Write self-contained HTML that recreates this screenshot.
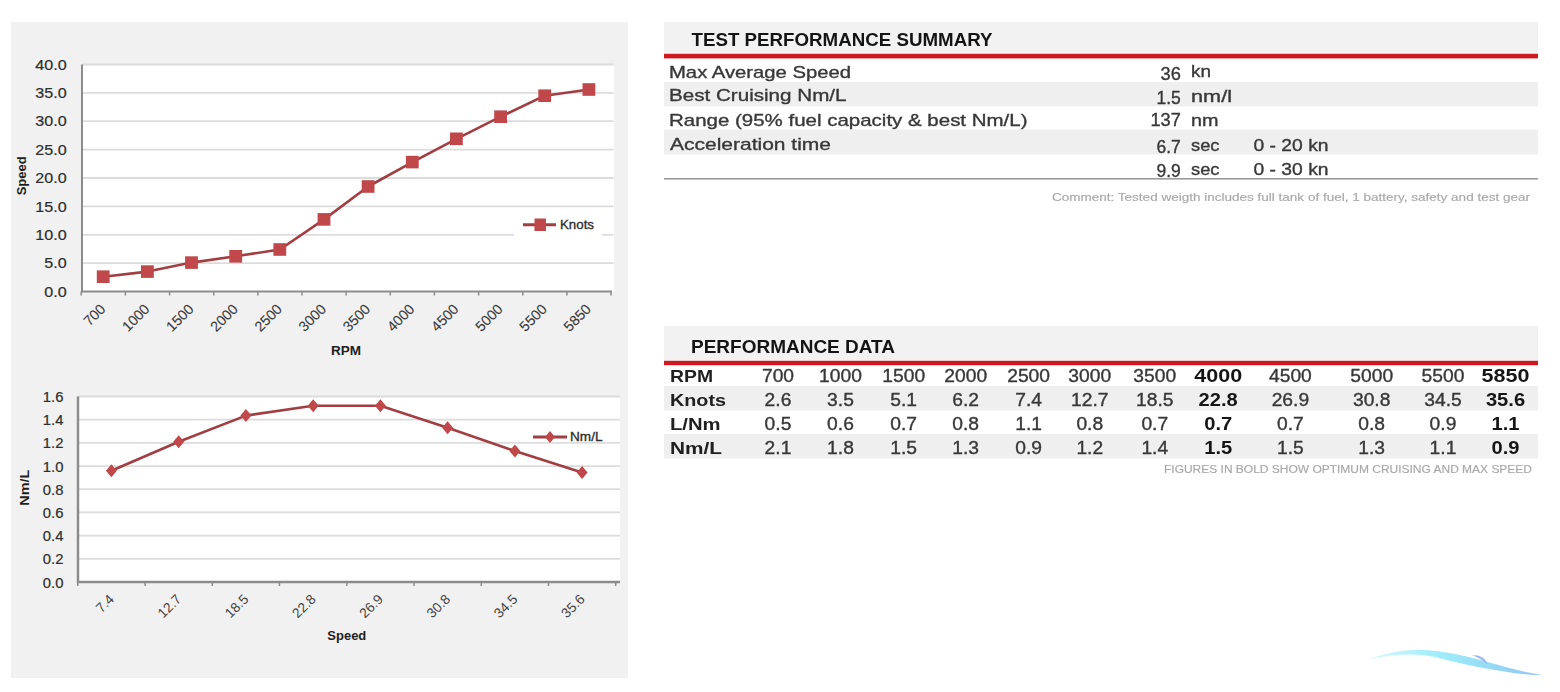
<!DOCTYPE html><html><head><meta charset="utf-8"><style>html,body{margin:0;padding:0;background:#fff;width:1560px;height:692px;overflow:hidden}svg{position:absolute;left:0;top:0;display:block;filter:blur(0.45px)}text{font-family:"Liberation Sans", sans-serif}</style></head><body>
<svg width="1560" height="692" viewBox="0 0 1560 692">
<rect x="11" y="22" width="617" height="656" fill="#f1f1f1"/>
<rect x="82" y="64.0" width="532" height="227.0" fill="#ffffff"/>
<line x1="82" y1="64.5" x2="613.5" y2="64.5" stroke="#dcdcdc" stroke-width="1.8"/>
<line x1="82" y1="92.9" x2="613.5" y2="92.9" stroke="#dcdcdc" stroke-width="1.8"/>
<line x1="82" y1="121.2" x2="613.5" y2="121.2" stroke="#dcdcdc" stroke-width="1.8"/>
<line x1="82" y1="149.6" x2="613.5" y2="149.6" stroke="#dcdcdc" stroke-width="1.8"/>
<line x1="82" y1="178.0" x2="613.5" y2="178.0" stroke="#dcdcdc" stroke-width="1.8"/>
<line x1="82" y1="206.4" x2="613.5" y2="206.4" stroke="#dcdcdc" stroke-width="1.8"/>
<line x1="82" y1="234.8" x2="613.5" y2="234.8" stroke="#dcdcdc" stroke-width="1.8"/>
<line x1="82" y1="263.1" x2="613.5" y2="263.1" stroke="#dcdcdc" stroke-width="1.8"/>
<text x="66.70" y="69.70" font-size="14" fill="#2e2e2e" stroke="#2e2e2e" stroke-width="0.2" text-anchor="end" textLength="31.34" lengthAdjust="spacingAndGlyphs">40.0</text>
<text x="66.70" y="98.08" font-size="14" fill="#2e2e2e" stroke="#2e2e2e" stroke-width="0.2" text-anchor="end" textLength="31.34" lengthAdjust="spacingAndGlyphs">35.0</text>
<text x="66.70" y="126.45" font-size="14" fill="#2e2e2e" stroke="#2e2e2e" stroke-width="0.2" text-anchor="end" textLength="31.34" lengthAdjust="spacingAndGlyphs">30.0</text>
<text x="66.70" y="154.82" font-size="14" fill="#2e2e2e" stroke="#2e2e2e" stroke-width="0.2" text-anchor="end" textLength="31.34" lengthAdjust="spacingAndGlyphs">25.0</text>
<text x="66.70" y="183.20" font-size="14" fill="#2e2e2e" stroke="#2e2e2e" stroke-width="0.2" text-anchor="end" textLength="31.34" lengthAdjust="spacingAndGlyphs">20.0</text>
<text x="66.70" y="211.57" font-size="14" fill="#2e2e2e" stroke="#2e2e2e" stroke-width="0.2" text-anchor="end" textLength="31.34" lengthAdjust="spacingAndGlyphs">15.0</text>
<text x="66.70" y="239.95" font-size="14" fill="#2e2e2e" stroke="#2e2e2e" stroke-width="0.2" text-anchor="end" textLength="31.34" lengthAdjust="spacingAndGlyphs">10.0</text>
<text x="66.70" y="268.32" font-size="14" fill="#2e2e2e" stroke="#2e2e2e" stroke-width="0.2" text-anchor="end" textLength="22.38" lengthAdjust="spacingAndGlyphs">5.0</text>
<text x="66.70" y="296.70" font-size="14" fill="#2e2e2e" stroke="#2e2e2e" stroke-width="0.2" text-anchor="end" textLength="22.38" lengthAdjust="spacingAndGlyphs">0.0</text>
<line x1="82" y1="64.5" x2="82" y2="292.5" stroke="#8c8c8c" stroke-width="2"/>
<line x1="81" y1="291.5" x2="612" y2="291.5" stroke="#8c8c8c" stroke-width="2"/>
<line x1="81.2" y1="291.5" x2="81.2" y2="295.5" stroke="#8c8c8c" stroke-width="1.5"/>
<line x1="125.4" y1="291.5" x2="125.4" y2="295.5" stroke="#8c8c8c" stroke-width="1.5"/>
<line x1="169.6" y1="291.5" x2="169.6" y2="295.5" stroke="#8c8c8c" stroke-width="1.5"/>
<line x1="213.7" y1="291.5" x2="213.7" y2="295.5" stroke="#8c8c8c" stroke-width="1.5"/>
<line x1="257.9" y1="291.5" x2="257.9" y2="295.5" stroke="#8c8c8c" stroke-width="1.5"/>
<line x1="302.0" y1="291.5" x2="302.0" y2="295.5" stroke="#8c8c8c" stroke-width="1.5"/>
<line x1="346.1" y1="291.5" x2="346.1" y2="295.5" stroke="#8c8c8c" stroke-width="1.5"/>
<line x1="390.3" y1="291.5" x2="390.3" y2="295.5" stroke="#8c8c8c" stroke-width="1.5"/>
<line x1="434.4" y1="291.5" x2="434.4" y2="295.5" stroke="#8c8c8c" stroke-width="1.5"/>
<line x1="478.6" y1="291.5" x2="478.6" y2="295.5" stroke="#8c8c8c" stroke-width="1.5"/>
<line x1="522.8" y1="291.5" x2="522.8" y2="295.5" stroke="#8c8c8c" stroke-width="1.5"/>
<line x1="566.9" y1="291.5" x2="566.9" y2="295.5" stroke="#8c8c8c" stroke-width="1.5"/>
<line x1="611.0" y1="291.5" x2="611.0" y2="295.5" stroke="#8c8c8c" stroke-width="1.5"/>
<g transform="translate(106.3,310) rotate(-45)">
<text x="0.00" y="0.00" font-size="14.3" fill="#3a3a3a" stroke="#3a3a3a" stroke-width="0.1" text-anchor="end">700</text>
</g>
<g transform="translate(150.5,310) rotate(-45)">
<text x="0.00" y="0.00" font-size="14.3" fill="#3a3a3a" stroke="#3a3a3a" stroke-width="0.1" text-anchor="end">1000</text>
</g>
<g transform="translate(194.6,310) rotate(-45)">
<text x="0.00" y="0.00" font-size="14.3" fill="#3a3a3a" stroke="#3a3a3a" stroke-width="0.1" text-anchor="end">1500</text>
</g>
<g transform="translate(238.8,310) rotate(-45)">
<text x="0.00" y="0.00" font-size="14.3" fill="#3a3a3a" stroke="#3a3a3a" stroke-width="0.1" text-anchor="end">2000</text>
</g>
<g transform="translate(282.9,310) rotate(-45)">
<text x="0.00" y="0.00" font-size="14.3" fill="#3a3a3a" stroke="#3a3a3a" stroke-width="0.1" text-anchor="end">2500</text>
</g>
<g transform="translate(327.1,310) rotate(-45)">
<text x="0.00" y="0.00" font-size="14.3" fill="#3a3a3a" stroke="#3a3a3a" stroke-width="0.1" text-anchor="end">3000</text>
</g>
<g transform="translate(371.2,310) rotate(-45)">
<text x="0.00" y="0.00" font-size="14.3" fill="#3a3a3a" stroke="#3a3a3a" stroke-width="0.1" text-anchor="end">3500</text>
</g>
<g transform="translate(415.4,310) rotate(-45)">
<text x="0.00" y="0.00" font-size="14.3" fill="#3a3a3a" stroke="#3a3a3a" stroke-width="0.1" text-anchor="end">4000</text>
</g>
<g transform="translate(459.5,310) rotate(-45)">
<text x="0.00" y="0.00" font-size="14.3" fill="#3a3a3a" stroke="#3a3a3a" stroke-width="0.1" text-anchor="end">4500</text>
</g>
<g transform="translate(503.7,310) rotate(-45)">
<text x="0.00" y="0.00" font-size="14.3" fill="#3a3a3a" stroke="#3a3a3a" stroke-width="0.1" text-anchor="end">5000</text>
</g>
<g transform="translate(547.8,310) rotate(-45)">
<text x="0.00" y="0.00" font-size="14.3" fill="#3a3a3a" stroke="#3a3a3a" stroke-width="0.1" text-anchor="end">5500</text>
</g>
<g transform="translate(592.0,310) rotate(-45)">
<text x="0.00" y="0.00" font-size="14.3" fill="#3a3a3a" stroke="#3a3a3a" stroke-width="0.1" text-anchor="end">5850</text>
</g>
<rect x="514" y="210" width="88" height="30" fill="#ffffff"/>
<polyline fill="none" stroke="#a23e42" stroke-width="2.6" stroke-linejoin="round" points="103.3,276.7 147.5,271.6 191.6,262.6 235.8,256.3 279.9,249.5 324.1,219.4 368.2,186.5 412.4,162.1 456.5,138.8 500.7,116.7 544.8,95.7 589.0,89.5"/>
<rect x="96.8" y="270.4" width="12.8" height="12.6" fill="#c0484b"/>
<rect x="141.0" y="265.3" width="12.8" height="12.6" fill="#c0484b"/>
<rect x="185.1" y="256.3" width="12.8" height="12.6" fill="#c0484b"/>
<rect x="229.3" y="250.0" width="12.8" height="12.6" fill="#c0484b"/>
<rect x="273.4" y="243.2" width="12.8" height="12.6" fill="#c0484b"/>
<rect x="317.6" y="213.1" width="12.8" height="12.6" fill="#c0484b"/>
<rect x="361.7" y="180.2" width="12.8" height="12.6" fill="#c0484b"/>
<rect x="405.9" y="155.8" width="12.8" height="12.6" fill="#c0484b"/>
<rect x="450.0" y="132.5" width="12.8" height="12.6" fill="#c0484b"/>
<rect x="494.2" y="110.4" width="12.8" height="12.6" fill="#c0484b"/>
<rect x="538.3" y="89.4" width="12.8" height="12.6" fill="#c0484b"/>
<rect x="582.5" y="83.2" width="12.8" height="12.6" fill="#c0484b"/>
<line x1="523" y1="224.8" x2="556" y2="224.8" stroke="#a23e42" stroke-width="3"/>
<rect x="534.5" y="218.5" width="11.5" height="12.5" fill="#c0484b"/>
<text x="560.00" y="228.60" font-size="13.5" fill="#2e2e2e" stroke="#2e2e2e" stroke-width="0.35" textLength="34.00" lengthAdjust="spacingAndGlyphs">Knots</text>
<text x="345.90" y="355.00" font-size="13.5" fill="#1e1e1e" font-weight="bold" text-anchor="middle" textLength="30.00" lengthAdjust="spacingAndGlyphs">RPM</text>
<g transform="translate(26,175.8) rotate(-90)">
<text x="0.00" y="0.00" font-size="13" fill="#1e1e1e" font-weight="bold" text-anchor="middle" textLength="39.00" lengthAdjust="spacingAndGlyphs">Speed</text>
</g>
<rect x="78" y="396.0" width="542" height="185.5" fill="#ffffff"/>
<line x1="78" y1="396.5" x2="620" y2="396.5" stroke="#dcdcdc" stroke-width="1.8"/>
<line x1="78" y1="419.7" x2="620" y2="419.7" stroke="#dcdcdc" stroke-width="1.8"/>
<line x1="78" y1="442.9" x2="620" y2="442.9" stroke="#dcdcdc" stroke-width="1.8"/>
<line x1="78" y1="466.1" x2="620" y2="466.1" stroke="#dcdcdc" stroke-width="1.8"/>
<line x1="78" y1="489.2" x2="620" y2="489.2" stroke="#dcdcdc" stroke-width="1.8"/>
<line x1="78" y1="512.4" x2="620" y2="512.4" stroke="#dcdcdc" stroke-width="1.8"/>
<line x1="78" y1="535.6" x2="620" y2="535.6" stroke="#dcdcdc" stroke-width="1.8"/>
<line x1="78" y1="558.8" x2="620" y2="558.8" stroke="#dcdcdc" stroke-width="1.8"/>
<text x="63.50" y="402.00" font-size="14" fill="#2e2e2e" stroke="#2e2e2e" stroke-width="0.2" text-anchor="end" textLength="20.63" lengthAdjust="spacingAndGlyphs">1.6</text>
<text x="63.50" y="425.19" font-size="14" fill="#2e2e2e" stroke="#2e2e2e" stroke-width="0.2" text-anchor="end" textLength="20.63" lengthAdjust="spacingAndGlyphs">1.4</text>
<text x="63.50" y="448.38" font-size="14" fill="#2e2e2e" stroke="#2e2e2e" stroke-width="0.2" text-anchor="end" textLength="20.63" lengthAdjust="spacingAndGlyphs">1.2</text>
<text x="63.50" y="471.56" font-size="14" fill="#2e2e2e" stroke="#2e2e2e" stroke-width="0.2" text-anchor="end" textLength="20.63" lengthAdjust="spacingAndGlyphs">1.0</text>
<text x="63.50" y="494.75" font-size="14" fill="#2e2e2e" stroke="#2e2e2e" stroke-width="0.2" text-anchor="end" textLength="20.63" lengthAdjust="spacingAndGlyphs">0.8</text>
<text x="63.50" y="517.94" font-size="14" fill="#2e2e2e" stroke="#2e2e2e" stroke-width="0.2" text-anchor="end" textLength="20.63" lengthAdjust="spacingAndGlyphs">0.6</text>
<text x="63.50" y="541.12" font-size="14" fill="#2e2e2e" stroke="#2e2e2e" stroke-width="0.2" text-anchor="end" textLength="20.63" lengthAdjust="spacingAndGlyphs">0.4</text>
<text x="63.50" y="564.31" font-size="14" fill="#2e2e2e" stroke="#2e2e2e" stroke-width="0.2" text-anchor="end" textLength="20.63" lengthAdjust="spacingAndGlyphs">0.2</text>
<text x="63.50" y="587.50" font-size="14" fill="#2e2e2e" stroke="#2e2e2e" stroke-width="0.2" text-anchor="end" textLength="20.63" lengthAdjust="spacingAndGlyphs">0.0</text>
<line x1="78" y1="396.5" x2="78" y2="583" stroke="#8c8c8c" stroke-width="2.5"/>
<line x1="77" y1="582" x2="620" y2="582" stroke="#8c8c8c" stroke-width="2.5"/>
<line x1="77.8" y1="582" x2="77.8" y2="586" stroke="#8c8c8c" stroke-width="1.5"/>
<line x1="145.1" y1="582" x2="145.1" y2="586" stroke="#8c8c8c" stroke-width="1.5"/>
<line x1="212.3" y1="582" x2="212.3" y2="586" stroke="#8c8c8c" stroke-width="1.5"/>
<line x1="279.5" y1="582" x2="279.5" y2="586" stroke="#8c8c8c" stroke-width="1.5"/>
<line x1="346.8" y1="582" x2="346.8" y2="586" stroke="#8c8c8c" stroke-width="1.5"/>
<line x1="414.0" y1="582" x2="414.0" y2="586" stroke="#8c8c8c" stroke-width="1.5"/>
<line x1="481.3" y1="582" x2="481.3" y2="586" stroke="#8c8c8c" stroke-width="1.5"/>
<line x1="548.5" y1="582" x2="548.5" y2="586" stroke="#8c8c8c" stroke-width="1.5"/>
<line x1="615.7" y1="582" x2="615.7" y2="586" stroke="#8c8c8c" stroke-width="1.5"/>
<g transform="translate(114.9,600) rotate(-45)">
<text x="0.00" y="0.00" font-size="13.7" fill="#444444" text-anchor="end">7.4</text>
</g>
<g transform="translate(182.2,600) rotate(-45)">
<text x="0.00" y="0.00" font-size="13.7" fill="#444444" text-anchor="end">12.7</text>
</g>
<g transform="translate(249.4,600) rotate(-45)">
<text x="0.00" y="0.00" font-size="13.7" fill="#444444" text-anchor="end">18.5</text>
</g>
<g transform="translate(316.7,600) rotate(-45)">
<text x="0.00" y="0.00" font-size="13.7" fill="#444444" text-anchor="end">22.8</text>
</g>
<g transform="translate(383.9,600) rotate(-45)">
<text x="0.00" y="0.00" font-size="13.7" fill="#444444" text-anchor="end">26.9</text>
</g>
<g transform="translate(451.1,600) rotate(-45)">
<text x="0.00" y="0.00" font-size="13.7" fill="#444444" text-anchor="end">30.8</text>
</g>
<g transform="translate(518.4,600) rotate(-45)">
<text x="0.00" y="0.00" font-size="13.7" fill="#444444" text-anchor="end">34.5</text>
</g>
<g transform="translate(585.6,600) rotate(-45)">
<text x="0.00" y="0.00" font-size="13.7" fill="#444444" text-anchor="end">35.6</text>
</g>
<polyline fill="none" stroke="#a23e42" stroke-width="2.6" stroke-linejoin="round" points="111.4,470.7 178.7,441.7 245.9,415.6 313.2,405.8 380.4,405.8 447.6,427.8 514.9,451.0 582.1,472.6"/>
<path d="M111.4,464.2 L116.9,470.7 L111.4,477.2 L105.9,470.7 Z" fill="#c0484b"/>
<path d="M178.7,435.2 L184.2,441.7 L178.7,448.2 L173.2,441.7 Z" fill="#c0484b"/>
<path d="M245.9,409.1 L251.4,415.6 L245.9,422.1 L240.4,415.6 Z" fill="#c0484b"/>
<path d="M313.2,399.3 L318.7,405.8 L313.2,412.3 L307.7,405.8 Z" fill="#c0484b"/>
<path d="M380.4,399.3 L385.9,405.8 L380.4,412.3 L374.9,405.8 Z" fill="#c0484b"/>
<path d="M447.6,421.3 L453.1,427.8 L447.6,434.3 L442.1,427.8 Z" fill="#c0484b"/>
<path d="M514.9,444.5 L520.4,451.0 L514.9,457.5 L509.4,451.0 Z" fill="#c0484b"/>
<path d="M582.1,466.1 L587.6,472.6 L582.1,479.1 L576.6,472.6 Z" fill="#c0484b"/>
<line x1="533" y1="437" x2="567" y2="437" stroke="#a23e42" stroke-width="3"/>
<path d="M550,431 L555,437 L550,443 L545,437 Z" fill="#c0484b"/>
<text x="570.00" y="441.00" font-size="13" fill="#2e2e2e" stroke="#2e2e2e" stroke-width="0.35" textLength="32.50" lengthAdjust="spacingAndGlyphs">Nm/L</text>
<text x="346.80" y="640.00" font-size="13" fill="#1e1e1e" font-weight="bold" text-anchor="middle" textLength="39.00" lengthAdjust="spacingAndGlyphs">Speed</text>
<g transform="translate(28.5,487.7) rotate(-90)">
<text x="0.00" y="0.00" font-size="13" fill="#1e1e1e" font-weight="bold" text-anchor="middle" textLength="36.00" lengthAdjust="spacingAndGlyphs">Nm/L</text>
</g>
<rect x="664" y="22" width="874" height="32" fill="#f2f2f2"/>
<rect x="664" y="53.8" width="874" height="4.6" fill="#d0181f"/>
<rect x="664" y="82" width="874" height="24.3" fill="#efefef"/>
<rect x="664" y="129.5" width="874" height="25" fill="#efefef"/>
<rect x="664" y="178" width="874" height="1.6" fill="#9a9a9a"/>
<text x="691.50" y="45.50" font-size="18" fill="#141414" font-weight="bold" textLength="301.00" lengthAdjust="spacingAndGlyphs">TEST PERFORMANCE SUMMARY</text>
<text x="669.00" y="77.50" font-size="17" fill="#383838" stroke="#383838" stroke-width="0.35" textLength="182.00" lengthAdjust="spacingAndGlyphs">Max Average Speed</text>
<text x="669.00" y="101.30" font-size="17" fill="#383838" stroke="#383838" stroke-width="0.35" textLength="177.50" lengthAdjust="spacingAndGlyphs">Best Cruising Nm/L</text>
<text x="669.00" y="125.60" font-size="17" fill="#383838" stroke="#383838" stroke-width="0.35" textLength="358.50" lengthAdjust="spacingAndGlyphs">Range (95% fuel capacity &amp; best Nm/L)</text>
<text x="670.00" y="149.80" font-size="17" fill="#383838" stroke="#383838" stroke-width="0.35" textLength="161.00" lengthAdjust="spacingAndGlyphs">Acceleration time</text>
<text x="1180.80" y="80.00" font-size="17.5" fill="#383838" stroke="#383838" stroke-width="0.35" text-anchor="end" textLength="20.30" lengthAdjust="spacingAndGlyphs">36</text>
<text x="1191.00" y="77.30" font-size="17" fill="#383838" stroke="#383838" stroke-width="0.35" textLength="20.00" lengthAdjust="spacingAndGlyphs">kn</text>
<text x="1180.80" y="104.00" font-size="17.5" fill="#383838" stroke="#383838" stroke-width="0.35" text-anchor="end">1.5</text>
<text x="1191.00" y="102.00" font-size="17" fill="#383838" stroke="#383838" stroke-width="0.35" textLength="41.00" lengthAdjust="spacingAndGlyphs">nm/l</text>
<text x="1180.80" y="126.00" font-size="17.5" fill="#383838" stroke="#383838" stroke-width="0.35" text-anchor="end" textLength="30.40" lengthAdjust="spacingAndGlyphs">137</text>
<text x="1191.00" y="126.00" font-size="17" fill="#383838" stroke="#383838" stroke-width="0.35" textLength="27.50" lengthAdjust="spacingAndGlyphs">nm</text>
<text x="1180.80" y="153.00" font-size="17.5" fill="#383838" stroke="#383838" stroke-width="0.35" text-anchor="end">6.7</text>
<text x="1191.00" y="150.50" font-size="17" fill="#383838" stroke="#383838" stroke-width="0.35" textLength="28.50" lengthAdjust="spacingAndGlyphs">sec</text>
<text x="1253.50" y="150.50" font-size="17" fill="#383838" stroke="#383838" stroke-width="0.35" textLength="75.00" lengthAdjust="spacingAndGlyphs">0 - 20 kn</text>
<text x="1180.80" y="177.00" font-size="17.5" fill="#383838" stroke="#383838" stroke-width="0.35" text-anchor="end">9.9</text>
<text x="1191.00" y="175.00" font-size="17" fill="#383838" stroke="#383838" stroke-width="0.35" textLength="28.50" lengthAdjust="spacingAndGlyphs">sec</text>
<text x="1253.50" y="175.00" font-size="17" fill="#383838" stroke="#383838" stroke-width="0.35" textLength="75.00" lengthAdjust="spacingAndGlyphs">0 - 30 kn</text>
<text x="1530.00" y="201.00" font-size="10.5" fill="#a8a8a8" stroke="#a8a8a8" stroke-width="0.15" text-anchor="end" textLength="478.00" lengthAdjust="spacingAndGlyphs">Comment: Tested weigth includes full tank of fuel, 1 battery, safety and test gear</text>
<rect x="664" y="326" width="874" height="35" fill="#f2f2f2"/>
<rect x="664" y="360.8" width="874" height="4.4" fill="#d0181f"/>
<rect x="664" y="386" width="874" height="24.5" fill="#efefef"/>
<rect x="664" y="434" width="874" height="24.5" fill="#efefef"/>
<text x="691.00" y="352.50" font-size="18" fill="#141414" font-weight="bold" textLength="204.00" lengthAdjust="spacingAndGlyphs">PERFORMANCE DATA</text>
<text x="670.00" y="381.50" font-size="17" fill="#202020" font-weight="bold" textLength="43.00" lengthAdjust="spacingAndGlyphs">RPM</text>
<text x="778.00" y="381.50" font-size="17.5" fill="#383838" stroke="#383838" stroke-width="0.35" text-anchor="middle" textLength="32.12" lengthAdjust="spacingAndGlyphs">700</text>
<text x="840.50" y="381.50" font-size="17.5" fill="#383838" stroke="#383838" stroke-width="0.35" text-anchor="middle" textLength="42.83" lengthAdjust="spacingAndGlyphs">1000</text>
<text x="903.70" y="381.50" font-size="17.5" fill="#383838" stroke="#383838" stroke-width="0.35" text-anchor="middle" textLength="42.83" lengthAdjust="spacingAndGlyphs">1500</text>
<text x="965.70" y="381.50" font-size="17.5" fill="#383838" stroke="#383838" stroke-width="0.35" text-anchor="middle" textLength="42.83" lengthAdjust="spacingAndGlyphs">2000</text>
<text x="1028.60" y="381.50" font-size="17.5" fill="#383838" stroke="#383838" stroke-width="0.35" text-anchor="middle" textLength="42.83" lengthAdjust="spacingAndGlyphs">2500</text>
<text x="1089.80" y="381.50" font-size="17.5" fill="#383838" stroke="#383838" stroke-width="0.35" text-anchor="middle" textLength="42.83" lengthAdjust="spacingAndGlyphs">3000</text>
<text x="1154.80" y="381.50" font-size="17.5" fill="#383838" stroke="#383838" stroke-width="0.35" text-anchor="middle" textLength="42.83" lengthAdjust="spacingAndGlyphs">3500</text>
<text x="1218.20" y="381.50" font-size="17.5" fill="#151515" font-weight="bold" text-anchor="middle" textLength="47.89" lengthAdjust="spacingAndGlyphs">4000</text>
<text x="1290.40" y="381.50" font-size="17.5" fill="#383838" stroke="#383838" stroke-width="0.35" text-anchor="middle" textLength="42.83" lengthAdjust="spacingAndGlyphs">4500</text>
<text x="1371.70" y="381.50" font-size="17.5" fill="#383838" stroke="#383838" stroke-width="0.35" text-anchor="middle" textLength="42.83" lengthAdjust="spacingAndGlyphs">5000</text>
<text x="1443.00" y="381.50" font-size="17.5" fill="#383838" stroke="#383838" stroke-width="0.35" text-anchor="middle" textLength="42.83" lengthAdjust="spacingAndGlyphs">5500</text>
<text x="1505.50" y="381.50" font-size="17.5" fill="#151515" font-weight="bold" text-anchor="middle" textLength="47.89" lengthAdjust="spacingAndGlyphs">5850</text>
<text x="670.00" y="406.00" font-size="17" fill="#202020" font-weight="bold" textLength="56.00" lengthAdjust="spacingAndGlyphs">Knots</text>
<text x="778.00" y="406.00" font-size="17.5" fill="#383838" stroke="#383838" stroke-width="0.35" text-anchor="middle" textLength="26.76" lengthAdjust="spacingAndGlyphs">2.6</text>
<text x="840.50" y="406.00" font-size="17.5" fill="#383838" stroke="#383838" stroke-width="0.35" text-anchor="middle" textLength="26.76" lengthAdjust="spacingAndGlyphs">3.5</text>
<text x="903.70" y="406.00" font-size="17.5" fill="#383838" stroke="#383838" stroke-width="0.35" text-anchor="middle" textLength="26.76" lengthAdjust="spacingAndGlyphs">5.1</text>
<text x="965.70" y="406.00" font-size="17.5" fill="#383838" stroke="#383838" stroke-width="0.35" text-anchor="middle" textLength="26.76" lengthAdjust="spacingAndGlyphs">6.2</text>
<text x="1028.60" y="406.00" font-size="17.5" fill="#383838" stroke="#383838" stroke-width="0.35" text-anchor="middle" textLength="26.76" lengthAdjust="spacingAndGlyphs">7.4</text>
<text x="1089.80" y="406.00" font-size="17.5" fill="#383838" stroke="#383838" stroke-width="0.35" text-anchor="middle" textLength="37.47" lengthAdjust="spacingAndGlyphs">12.7</text>
<text x="1154.80" y="406.00" font-size="17.5" fill="#383838" stroke="#383838" stroke-width="0.35" text-anchor="middle" textLength="37.47" lengthAdjust="spacingAndGlyphs">18.5</text>
<text x="1218.20" y="406.00" font-size="17.5" fill="#151515" font-weight="bold" text-anchor="middle" textLength="39.17" lengthAdjust="spacingAndGlyphs">22.8</text>
<text x="1290.40" y="406.00" font-size="17.5" fill="#383838" stroke="#383838" stroke-width="0.35" text-anchor="middle" textLength="37.47" lengthAdjust="spacingAndGlyphs">26.9</text>
<text x="1371.70" y="406.00" font-size="17.5" fill="#383838" stroke="#383838" stroke-width="0.35" text-anchor="middle" textLength="37.47" lengthAdjust="spacingAndGlyphs">30.8</text>
<text x="1443.00" y="406.00" font-size="17.5" fill="#383838" stroke="#383838" stroke-width="0.35" text-anchor="middle" textLength="37.47" lengthAdjust="spacingAndGlyphs">34.5</text>
<text x="1505.50" y="406.00" font-size="17.5" fill="#151515" font-weight="bold" text-anchor="middle" textLength="39.17" lengthAdjust="spacingAndGlyphs">35.6</text>
<text x="670.00" y="430.20" font-size="17" fill="#202020" font-weight="bold" textLength="50.60" lengthAdjust="spacingAndGlyphs">L/Nm</text>
<text x="778.00" y="430.20" font-size="17.5" fill="#383838" stroke="#383838" stroke-width="0.35" text-anchor="middle" textLength="26.76" lengthAdjust="spacingAndGlyphs">0.5</text>
<text x="840.50" y="430.20" font-size="17.5" fill="#383838" stroke="#383838" stroke-width="0.35" text-anchor="middle" textLength="26.76" lengthAdjust="spacingAndGlyphs">0.6</text>
<text x="903.70" y="430.20" font-size="17.5" fill="#383838" stroke="#383838" stroke-width="0.35" text-anchor="middle" textLength="26.76" lengthAdjust="spacingAndGlyphs">0.7</text>
<text x="965.70" y="430.20" font-size="17.5" fill="#383838" stroke="#383838" stroke-width="0.35" text-anchor="middle" textLength="26.76" lengthAdjust="spacingAndGlyphs">0.8</text>
<text x="1028.60" y="430.20" font-size="17.5" fill="#383838" stroke="#383838" stroke-width="0.35" text-anchor="middle" textLength="26.76" lengthAdjust="spacingAndGlyphs">1.1</text>
<text x="1089.80" y="430.20" font-size="17.5" fill="#383838" stroke="#383838" stroke-width="0.35" text-anchor="middle" textLength="26.76" lengthAdjust="spacingAndGlyphs">0.8</text>
<text x="1154.80" y="430.20" font-size="17.5" fill="#383838" stroke="#383838" stroke-width="0.35" text-anchor="middle" textLength="26.76" lengthAdjust="spacingAndGlyphs">0.7</text>
<text x="1218.20" y="430.20" font-size="17.5" fill="#151515" font-weight="bold" text-anchor="middle" textLength="27.98" lengthAdjust="spacingAndGlyphs">0.7</text>
<text x="1290.40" y="430.20" font-size="17.5" fill="#383838" stroke="#383838" stroke-width="0.35" text-anchor="middle" textLength="26.76" lengthAdjust="spacingAndGlyphs">0.7</text>
<text x="1371.70" y="430.20" font-size="17.5" fill="#383838" stroke="#383838" stroke-width="0.35" text-anchor="middle" textLength="26.76" lengthAdjust="spacingAndGlyphs">0.8</text>
<text x="1443.00" y="430.20" font-size="17.5" fill="#383838" stroke="#383838" stroke-width="0.35" text-anchor="middle" textLength="26.76" lengthAdjust="spacingAndGlyphs">0.9</text>
<text x="1505.50" y="430.20" font-size="17.5" fill="#151515" font-weight="bold" text-anchor="middle" textLength="27.98" lengthAdjust="spacingAndGlyphs">1.1</text>
<text x="670.00" y="454.30" font-size="17" fill="#202020" font-weight="bold" textLength="52.00" lengthAdjust="spacingAndGlyphs">Nm/L</text>
<text x="778.00" y="454.30" font-size="17.5" fill="#383838" stroke="#383838" stroke-width="0.35" text-anchor="middle" textLength="26.76" lengthAdjust="spacingAndGlyphs">2.1</text>
<text x="840.50" y="454.30" font-size="17.5" fill="#383838" stroke="#383838" stroke-width="0.35" text-anchor="middle" textLength="26.76" lengthAdjust="spacingAndGlyphs">1.8</text>
<text x="903.70" y="454.30" font-size="17.5" fill="#383838" stroke="#383838" stroke-width="0.35" text-anchor="middle" textLength="26.76" lengthAdjust="spacingAndGlyphs">1.5</text>
<text x="965.70" y="454.30" font-size="17.5" fill="#383838" stroke="#383838" stroke-width="0.35" text-anchor="middle" textLength="26.76" lengthAdjust="spacingAndGlyphs">1.3</text>
<text x="1028.60" y="454.30" font-size="17.5" fill="#383838" stroke="#383838" stroke-width="0.35" text-anchor="middle" textLength="26.76" lengthAdjust="spacingAndGlyphs">0.9</text>
<text x="1089.80" y="454.30" font-size="17.5" fill="#383838" stroke="#383838" stroke-width="0.35" text-anchor="middle" textLength="26.76" lengthAdjust="spacingAndGlyphs">1.2</text>
<text x="1154.80" y="454.30" font-size="17.5" fill="#383838" stroke="#383838" stroke-width="0.35" text-anchor="middle" textLength="26.76" lengthAdjust="spacingAndGlyphs">1.4</text>
<text x="1218.20" y="454.30" font-size="17.5" fill="#151515" font-weight="bold" text-anchor="middle" textLength="27.98" lengthAdjust="spacingAndGlyphs">1.5</text>
<text x="1290.40" y="454.30" font-size="17.5" fill="#383838" stroke="#383838" stroke-width="0.35" text-anchor="middle" textLength="26.76" lengthAdjust="spacingAndGlyphs">1.5</text>
<text x="1371.70" y="454.30" font-size="17.5" fill="#383838" stroke="#383838" stroke-width="0.35" text-anchor="middle" textLength="26.76" lengthAdjust="spacingAndGlyphs">1.3</text>
<text x="1443.00" y="454.30" font-size="17.5" fill="#383838" stroke="#383838" stroke-width="0.35" text-anchor="middle" textLength="26.76" lengthAdjust="spacingAndGlyphs">1.1</text>
<text x="1505.50" y="454.30" font-size="17.5" fill="#151515" font-weight="bold" text-anchor="middle" textLength="27.98" lengthAdjust="spacingAndGlyphs">0.9</text>
<text x="1532.00" y="473.00" font-size="10" fill="#a8a8a8" stroke="#a8a8a8" stroke-width="0.15" text-anchor="end" textLength="368.00" lengthAdjust="spacingAndGlyphs">FIGURES IN BOLD SHOW OPTIMUM CRUISING AND MAX SPEED</text>
<defs><linearGradient id="wg" gradientUnits="userSpaceOnUse" x1="1367" x2="1542" y1="0" y2="0"><stop offset="0" stop-color="#d8f8fc"/><stop offset="0.4" stop-color="#a0eefa"/><stop offset="0.62" stop-color="#98e0f6"/><stop offset="1" stop-color="#90c4f2"/></linearGradient></defs>
<path d="M1367,660 C1385,653 1405,649 1425,650 C1445,651 1470,657 1495,664 C1515,670 1530,673 1542,675 C1528,675 1512,673 1495,670 C1475,667 1455,662 1435,657 C1415,653 1392,654 1367,660 Z" fill="url(#wg)"/>
<path d="M1472,655 C1480,655 1486,658 1487,664 C1484,661 1479,658 1472,655 Z" fill="#86aaf0" opacity="0.8"/>
</svg></body></html>
